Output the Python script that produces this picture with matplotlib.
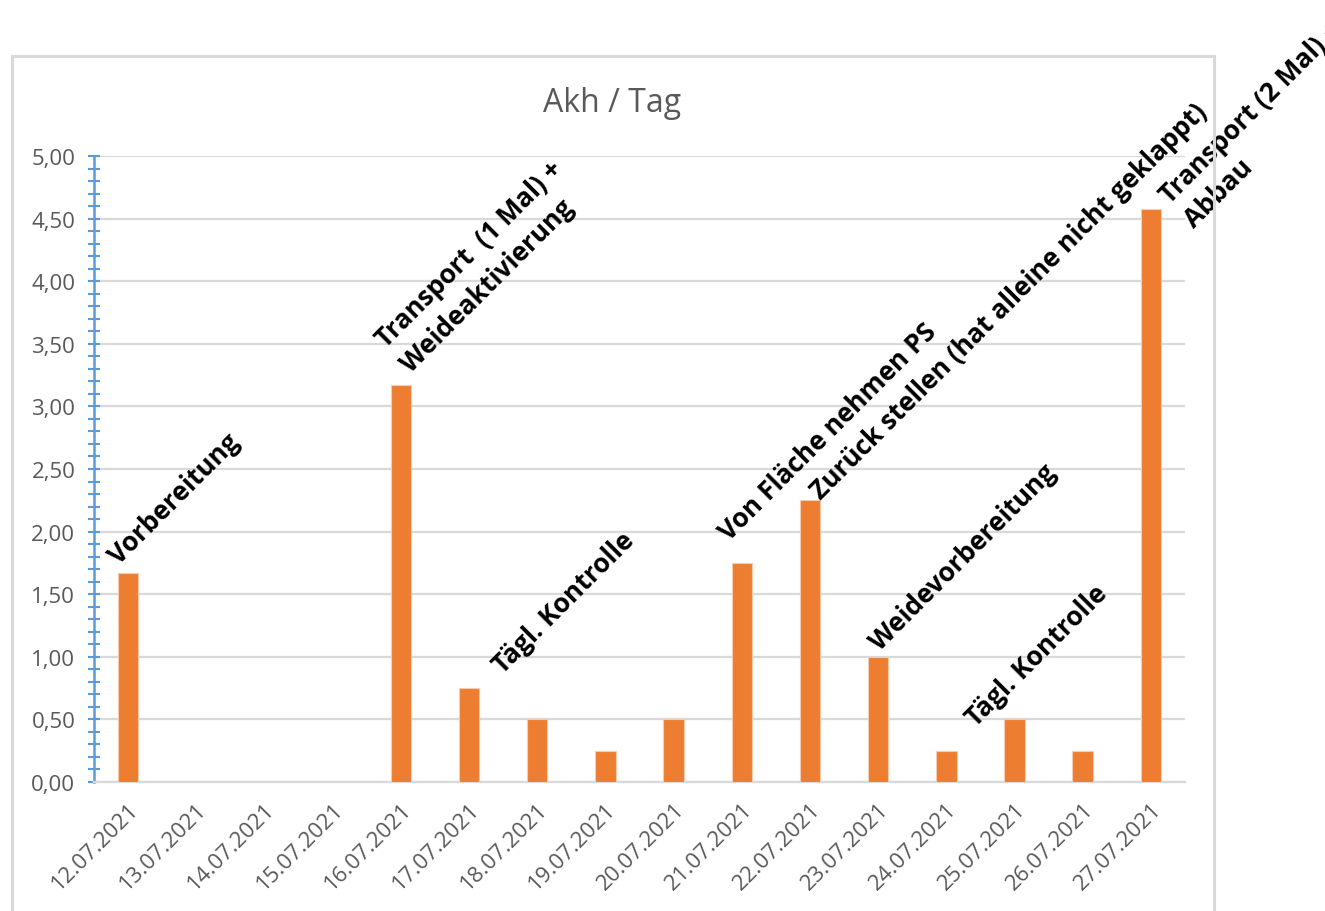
import numpy as np
import matplotlib
matplotlib.use("Agg")
import matplotlib.pyplot as plt
from matplotlib.patches import Rectangle
from matplotlib.ticker import MultipleLocator, FuncFormatter

plt.rcParams['font.family'] = ['Open Sans', 'DejaVu Sans']

dates = ["12.07.2021", "13.07.2021", "14.07.2021", "15.07.2021", "16.07.2021",
         "17.07.2021", "18.07.2021", "19.07.2021", "20.07.2021", "21.07.2021",
         "22.07.2021", "23.07.2021", "24.07.2021", "25.07.2021", "26.07.2021",
         "27.07.2021"]
akh = [1.67, 0, 0, 0, 3.17, 0.75, 0.5, 0.25, 0.5, 1.75, 2.25, 1.0, 0.25, 0.5, 0.25, 4.58]

# Beschriftungen: (Balkenindex, Text, Versatz in Punkten)
labels = [
    (0, "Vorbereitung", (-4, 3)),
    (4, "Transport  (1 Mal) +\nWeideaktivierung", (10, 6)),
    (5, "Tägl. Kontrolle", (27, 7)),
    (9, "Von Fläche nehmen PS", (-6, 13)),
    (10, "Zurück stellen (hat alleine nicht geklappt)", (11, -3)),
    (11, "Weidevorbereitung", (4, 1)),
    (13, "Tägl. Kontrolle", (-25, -8)),
    (15, "Transport (2 Mal) +\nAbbau", (34, -17)),
]

orange = "#ED7D31"
grid_col = "#D9D9D9"
txt_col = "#595959"
blue = "#5B9BD5"

fig = plt.figure(figsize=(13.25, 9.12), dpi=100)
ax = fig.add_axes([94/1325, 1 - 783/912, (1185-94)/1325, (783-157)/912])

x = np.arange(len(dates))
ax.bar(x, akh, width=0.3, color=orange, edgecolor="#F8CBAD", linewidth=0.8, zorder=3)

ax.set_xlim(-0.5, len(dates) - 0.5)
ax.set_ylim(0, 5)
ax.yaxis.set_major_locator(MultipleLocator(0.5))
ax.yaxis.set_minor_locator(MultipleLocator(0.1))
ax.yaxis.set_major_formatter(FuncFormatter(lambda v, p: f"{v:.2f}".replace(".", ",")))
ax.grid(axis="y", color=grid_col, linewidth=1.6, zorder=0)

for s in ["top", "right"]:
    ax.spines[s].set_visible(False)
ax.spines["bottom"].set_color(grid_col)
ax.spines["bottom"].set_linewidth(1.6)
ax.spines["left"].set_color(blue)
ax.spines["left"].set_linewidth(1.8)

ax.tick_params(axis="y", which="both", direction="inout", color=blue, width=1.5,
               labelsize=16, labelcolor=txt_col, pad=9)
ax.tick_params(axis="y", which="major", length=9)
ax.tick_params(axis="y", which="minor", length=9)
ax.set_xticks(x)
ax.set_xticklabels(dates, rotation=45, ha="right", rotation_mode="anchor",
                   fontsize=16, color=txt_col)
ax.tick_params(axis="x", length=0, pad=12)

for i, text, off in labels:
    ax.annotate(text, xy=(i, akh[i]), xytext=off, textcoords="offset points",
                rotation=45, rotation_mode="anchor", ha="left", va="bottom",
                fontsize=19, fontweight="bold", color="black",
                multialignment="left", linespacing=1.35, annotation_clip=False, zorder=5)

fig.text(612/1325, 1 - 103/912, "Akh / Tag", ha="center", va="center",
         fontsize=23, color=txt_col)

fig.patches.append(Rectangle((12/1325, -0.05), (1214-12)/1325, 1 - 57/912 + 0.05,
                             transform=fig.transFigure, fill=False,
                             edgecolor=grid_col, linewidth=2.2, zorder=0))

fig.savefig("out.png", dpi=100)
